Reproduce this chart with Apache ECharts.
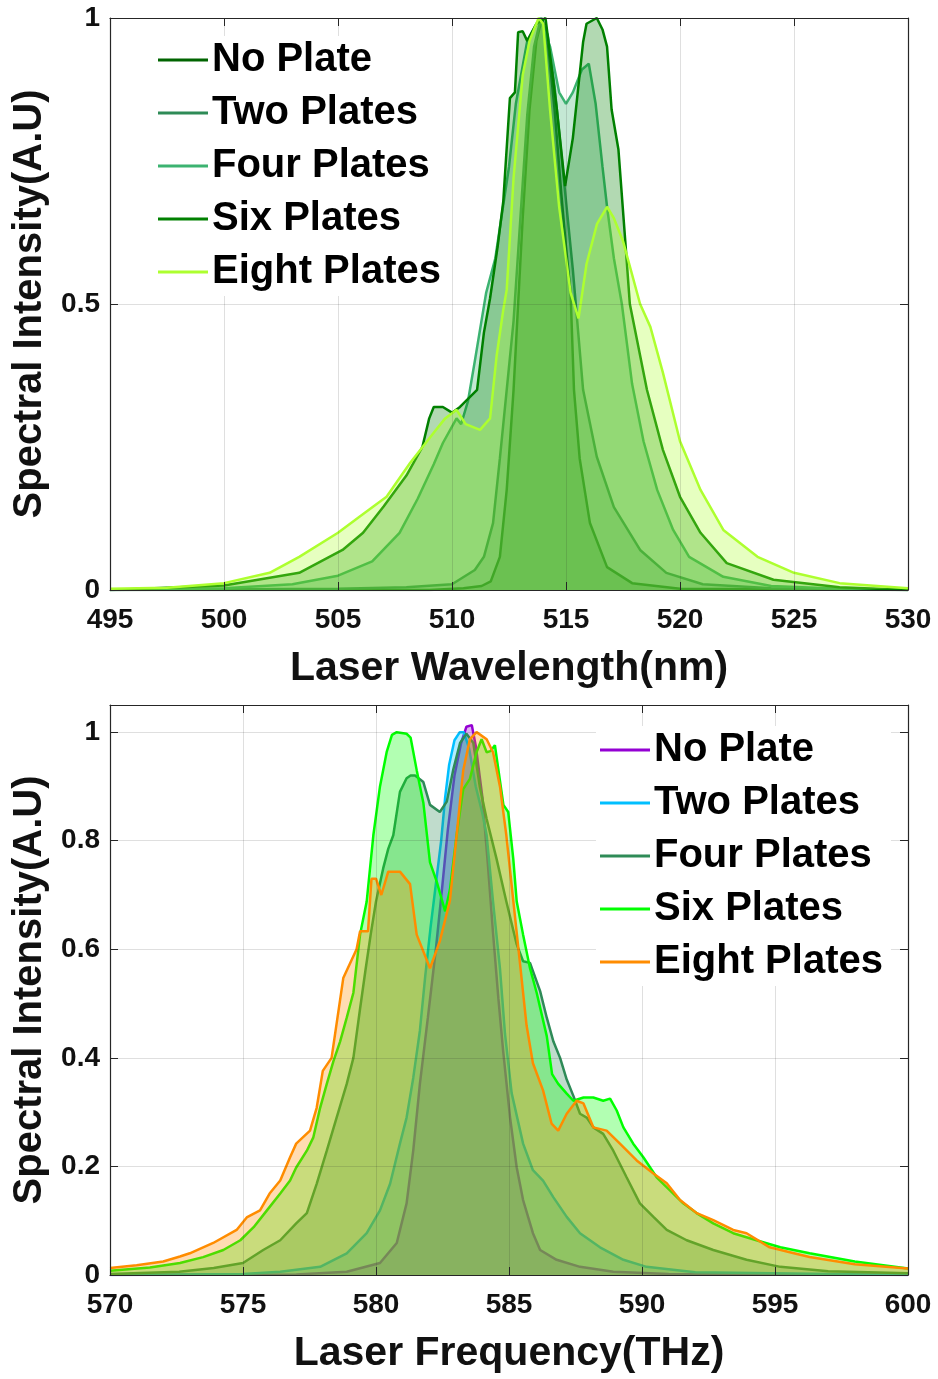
<!DOCTYPE html>
<html><head><meta charset="utf-8">
<script src="https://cdn.jsdelivr.net/npm/echarts@6/dist/echarts.min.js"></script>
<style>html,body{margin:0;padding:0;background:#fff}#c1{width:938px;height:690px}#c2{width:938px;height:689px}</style>
</head><body><div id="c1"></div><div id="c2"></div>
<script>
// ---------- Top plot: wavelength (nm) ----------
const seriesNames = ['No Plate', 'Two Plates', 'Four Plates', 'Six Plates', 'Eight Plates'];
const wlTicks = [495, 500, 505, 510, 515, 520, 525, 530];

const wlNoPlate  = [495, 509, 510.5, 511.3, 511.7, 512.1, 512.4, 512.7, 512.9, 513.1, 513.4, 513.7, 513.95, 514.2, 514.5, 514.8, 515.0, 515.2, 515.35, 515.6, 516.05, 516.8, 517.9, 520, 530];
const inNoPlate  = [0, 0, 0.003, 0.007, 0.015, 0.058, 0.175, 0.35, 0.5, 0.65, 0.84, 0.96, 1.0, 0.96, 0.84, 0.69, 0.6, 0.52, 0.35, 0.23, 0.117, 0.04, 0.012, 0.002, 0];

const wlTwo = [495, 505, 508, 510, 511, 511.4, 511.8, 512.1, 512.4, 512.7, 513.0, 513.3, 513.6, 513.9, 514.2, 514.5, 514.9, 515.3, 515.75, 516.35, 517.1, 518.25, 519.4, 521, 524, 530];
const inTwo = [0, 0.002, 0.005, 0.01, 0.035, 0.058, 0.117, 0.23, 0.35, 0.47, 0.65, 0.83, 0.95, 1.0, 0.97, 0.88, 0.72, 0.56, 0.35, 0.233, 0.145, 0.07, 0.03, 0.01, 0.003, 0];

const wlFour = [495, 500, 503, 505, 506.5, 507.7, 508.5, 509.2, 509.6, 510.2, 510.4, 510.7, 511.0, 511.5, 511.9, 512.5, 512.8, 513.3, 513.85, 514.3, 514.7, 515.0, 515.3, 515.7, 516.0, 516.3, 516.6, 516.8, 517.1, 517.45, 517.9, 518.4, 519.0, 519.7, 520.4, 521.9, 524, 527, 530];
const inFour = [0, 0.003, 0.01, 0.025, 0.05, 0.1, 0.16, 0.22, 0.257, 0.30, 0.29, 0.33, 0.40, 0.52, 0.58, 0.74, 0.85, 0.96, 1.0, 0.95, 0.87, 0.85, 0.87, 0.91, 0.92, 0.85, 0.74, 0.67, 0.58, 0.5, 0.36, 0.26, 0.175, 0.105, 0.058, 0.023, 0.007, 0.002, 0];

const wlSix = [495, 500, 503.3, 505.2, 506.1, 507.0, 508.0, 508.7, 509.0, 509.2, 509.6, 510.0, 510.35, 511.1, 511.4, 511.67, 512.0, 512.25, 512.54, 512.76, 512.9, 513.1, 513.3, 513.7, 514.1, 514.6, 514.96, 515.3, 515.75, 515.9, 516.35, 516.6, 516.8, 517.0, 517.3, 517.6, 517.8, 518.55, 519.25, 520.0, 520.9, 522.05, 524.1, 527, 530];
const inSix = [0, 0.008, 0.03, 0.07, 0.1, 0.146, 0.2, 0.25, 0.3, 0.32, 0.32, 0.31, 0.32, 0.35, 0.45, 0.51, 0.6, 0.68, 0.86, 0.87, 0.975, 0.977, 0.96, 0.99, 1.0, 0.84, 0.706, 0.79, 0.958, 0.99, 1.0, 0.98, 0.95, 0.84, 0.77, 0.61, 0.5, 0.35, 0.245, 0.163, 0.1, 0.047, 0.018, 0.005, 0];

const wlEight = [495, 497.5, 500, 502, 503.3, 505, 506, 507.13, 508.16, 509.18, 509.7, 510.2, 510.6, 511.23, 511.67, 511.96, 512.25, 512.4, 512.7, 513.1, 513.4, 513.8, 514.0, 514.3, 514.7, 515.2, 515.55, 515.9, 516.36, 516.8, 517.1, 517.5, 518.25, 518.7, 519.25, 520.0, 520.9, 521.9, 523.4, 525, 527, 530];
const inEight = [0.002, 0.004, 0.012, 0.03, 0.058, 0.1, 0.13, 0.163, 0.222, 0.274, 0.30, 0.315, 0.29, 0.28, 0.30, 0.41, 0.49, 0.525, 0.72, 0.90, 0.96, 1.0, 0.99, 0.84, 0.67, 0.52, 0.475, 0.57, 0.64, 0.67, 0.65, 0.61, 0.5, 0.46, 0.38, 0.26, 0.175, 0.105, 0.058, 0.03, 0.012, 0.003];

const topColors = ['#006400', '#2E8B57', '#3CB371', '#008000', '#ADFF2F'];

// ---------- Bottom plot: frequency (THz) ----------
const fqTicks = [570, 575, 580, 585, 590, 595, 600];

const fqNoPlate = [570, 577, 578.9, 580.15, 580.78, 581.15, 581.4, 581.65, 581.95, 582.25, 582.5, 582.7, 582.95, 583.2, 583.4, 583.6, 583.75, 584.0, 584.2, 584.4, 584.6, 584.78, 585.04, 585.29, 585.53, 585.9, 586.17, 586.79, 587.67, 588.92, 591, 600];
const fiNoPlate = [0, 0.001, 0.006, 0.022, 0.059, 0.132, 0.229, 0.352, 0.474, 0.6, 0.72, 0.82, 0.92, 0.98, 1.01, 1.013, 0.975, 0.88, 0.76, 0.63, 0.51, 0.413, 0.29, 0.198, 0.138, 0.077, 0.046, 0.028, 0.015, 0.006, 0.002, 0];

const fqTwo = [570, 575, 576.4, 577.9, 578.9, 579.65, 580.15, 580.53, 580.9, 581.15, 581.4, 581.65, 581.85, 582.05, 582.25, 582.45, 582.6, 582.75, 582.95, 583.15, 583.3, 583.5, 583.75, 584.0, 584.16, 584.4, 584.66, 584.85, 585.1, 585.53, 585.9, 586.28, 586.67, 587.17, 587.67, 588.42, 589.3, 590.17, 592, 600];
const fiTwo = [0, 0.002, 0.006, 0.015, 0.04, 0.077, 0.119, 0.168, 0.242, 0.29, 0.363, 0.45, 0.55, 0.64, 0.72, 0.8, 0.88, 0.94, 0.985, 1.0, 1.0, 0.97, 0.9, 0.85, 0.81, 0.688, 0.565, 0.444, 0.335, 0.242, 0.193, 0.174, 0.143, 0.107, 0.077, 0.051, 0.028, 0.015, 0.005, 0];

const fqFour = [570, 572.6, 573.9, 575.0, 575.76, 576.4, 577.0, 577.4, 577.77, 578.15, 578.52, 578.9, 579.15, 579.4, 579.6, 579.8, 580.0, 580.27, 580.46, 580.65, 580.9, 581.15, 581.3, 581.47, 581.78, 582.03, 582.4, 582.66, 582.9, 583.16, 583.4, 583.66, 583.9, 584.16, 584.53, 584.9, 585.29, 585.53, 585.79, 586.17, 586.42, 586.67, 586.92, 587.17, 587.42, 587.67, 587.92, 588.17, 588.54, 588.92, 589.42, 589.92, 590.43, 590.93, 591.68, 592.68, 593.93, 595.2, 597, 600];
const fiFour = [0.002, 0.006, 0.013, 0.022, 0.046, 0.064, 0.095, 0.114, 0.168, 0.229, 0.29, 0.352, 0.40, 0.49, 0.56, 0.627, 0.688, 0.749, 0.785, 0.81, 0.89, 0.915, 0.92, 0.92, 0.908, 0.866, 0.853, 0.872, 0.93, 0.98, 0.997, 0.98, 0.90, 0.84, 0.767, 0.688, 0.609, 0.578, 0.575, 0.523, 0.474, 0.43, 0.40, 0.36, 0.33, 0.297, 0.29, 0.272, 0.26, 0.229, 0.18, 0.132, 0.107, 0.083, 0.064, 0.046, 0.028, 0.015, 0.007, 0.003];

const fqSix = [570, 571.5, 572.63, 573.5, 574.26, 574.9, 575.4, 575.9, 576.4, 576.77, 577.0, 577.4, 577.64, 577.9, 578.15, 578.4, 578.65, 578.9, 579.15, 579.4, 579.65, 579.9, 580.15, 580.4, 580.6, 580.78, 581.15, 581.3, 581.53, 581.78, 582.03, 582.28, 582.6, 582.78, 583.03, 583.28, 583.53, 583.78, 583.97, 584.16, 584.3, 584.47, 584.79, 584.97, 585.16, 585.29, 585.53, 585.79, 586.04, 586.42, 586.62, 586.85, 587.17, 587.42, 587.8, 588.17, 588.54, 588.8, 589.05, 589.3, 589.67, 590.05, 590.55, 591.05, 591.55, 592.05, 592.68, 593.43, 594.3, 595.2, 596.3, 598, 600];
const fiSix = [0.008, 0.014, 0.022, 0.033, 0.046, 0.064, 0.088, 0.119, 0.15, 0.174, 0.198, 0.229, 0.253, 0.308, 0.352, 0.394, 0.43, 0.474, 0.52, 0.627, 0.688, 0.81, 0.90, 0.963, 0.995, 1.0, 0.997, 0.99, 0.93, 0.87, 0.76, 0.725, 0.67, 0.71, 0.81, 0.895, 0.914, 0.963, 0.987, 0.963, 0.965, 0.976, 0.866, 0.853, 0.767, 0.688, 0.627, 0.565, 0.52, 0.44, 0.37, 0.352, 0.334, 0.321, 0.327, 0.327, 0.321, 0.325, 0.303, 0.272, 0.242, 0.217, 0.18, 0.156, 0.132, 0.114, 0.095, 0.077, 0.064, 0.051, 0.04, 0.025, 0.012];

const fqEight = [570, 571, 572, 572.63, 573.0, 573.88, 574.76, 575.14, 575.64, 576.0, 576.4, 576.77, 577.0, 577.52, 577.77, 578.0, 578.33, 578.77, 579.27, 579.4, 579.7, 579.83, 580.0, 580.2, 580.46, 580.9, 581.28, 581.53, 582.03, 582.4, 582.78, 583.03, 583.28, 583.53, 583.78, 584.16, 584.4, 584.66, 584.9, 585.16, 585.4, 585.66, 585.9, 586.28, 586.6, 586.85, 587.17, 587.54, 587.8, 588.17, 588.67, 589.17, 589.8, 590.43, 590.93, 591.43, 592.06, 592.68, 593.43, 593.93, 594.8, 595.56, 596.3, 598, 600];
const fiEight = [0.013, 0.018, 0.025, 0.034, 0.04, 0.059, 0.083, 0.106, 0.119, 0.15, 0.174, 0.217, 0.242, 0.266, 0.308, 0.376, 0.40, 0.547, 0.60, 0.633, 0.633, 0.73, 0.73, 0.70, 0.743, 0.743, 0.72, 0.627, 0.565, 0.615, 0.69, 0.81, 0.93, 0.987, 1.0, 0.987, 0.963, 0.90, 0.81, 0.69, 0.58, 0.46, 0.39, 0.34, 0.279, 0.266, 0.297, 0.321, 0.316, 0.272, 0.266, 0.242, 0.211, 0.187, 0.169, 0.138, 0.114, 0.101, 0.083, 0.077, 0.051, 0.042, 0.033, 0.02, 0.012];

const botColors = ['#9400D3', '#00BFFF', '#2E8B57', '#00FF00', '#FF8C00'];

// ---------- Rendering ----------
const FONT = '"Liberation Sans", Arial, sans-serif';
const INK = '#111';

function zip(xs, ys) { return xs.map((x, i) => [x, ys[i]]); }

function mkSeries(name, xs, ys, color, idx) {
  return {
    name: name, type: 'line', data: zip(xs, ys), z: 2 + idx,
    symbol: 'none', showSymbol: false, smooth: false,
    lineStyle: { color: color, width: 2.5 },
    itemStyle: { color: color },
    areaStyle: { color: color, opacity: 0.3 },
    emphasis: { disabled: true }, silent: true
  };
}

function mkOption(cfg) {
  const tickStyle = { show: true, inside: true, length: 8, lineStyle: { color: '#262626', width: 1 } };
  const lineStyle = { show: true, onZero: false, lineStyle: { color: '#262626', width: 1.2 } };
  const split = { show: true, lineStyle: { color: 'rgba(38,38,38,0.15)', width: 1 } };
  const lab = { fontSize: 28, fontWeight: 'bold', color: INK, fontFamily: FONT };
  return {
    animation: false,
    backgroundColor: '#fff',
    grid: { left: 110, top: cfg.top, width: 798, height: cfg.height, show: false, containLabel: false, outerBoundsMode: 'none' },
    legend: {
      orient: 'vertical', left: cfg.legLeft, top: cfg.legTop, z: 30,
      data: seriesNames.map(n => ({ name: n, icon: 'rect' })),
      itemWidth: 50, itemHeight: 3, itemGap: 13,
      backgroundColor: '#fff', padding: [4, 8, 4, 4],
      selectedMode: false,
      textStyle: { fontSize: 40, fontWeight: 'bold', color: '#000', fontFamily: FONT, lineHeight: 40, padding: [0, 0, 0, -1] }
    },
    xAxis: [
      { type: 'value', position: 'bottom', min: cfg.xmin, max: cfg.xmax, interval: 5,
        axisLine: lineStyle, axisTick: tickStyle, splitLine: split,
        axisLabel: Object.assign({ margin: 16 }, lab),
        name: cfg.xname, nameLocation: 'middle', nameGap: cfg.xNameGap,
        nameTextStyle: { fontSize: 41, fontWeight: 'bold', color: INK, fontFamily: FONT }, z: 10 },
      { type: 'value', position: 'top', min: cfg.xmin, max: cfg.xmax, interval: 5,
        axisLine: lineStyle, axisTick: tickStyle, splitLine: { show: false }, axisLabel: { show: false }, z: 10 }
    ],
    yAxis: [
      { type: 'value', position: 'left', min: 0, max: cfg.ymax, interval: cfg.yint,
        axisLine: lineStyle, axisTick: tickStyle, splitLine: split,
        axisLabel: Object.assign({ margin: 10, formatter: cfg.yfmt }, lab),
        name: 'Spectral Intensity(A.U)', nameLocation: 'middle', nameGap: cfg.yNameGap, nameRotate: 90,
        nameTextStyle: { fontSize: 40, fontWeight: 'bold', color: INK, fontFamily: FONT }, z: 10 },
      { type: 'value', position: 'right', min: 0, max: cfg.ymax, interval: cfg.yint,
        axisLine: lineStyle, axisTick: tickStyle, splitLine: { show: false }, axisLabel: { show: false }, z: 10 }
    ],
    series: cfg.series
  };
}

const topSeries = [
  mkSeries(seriesNames[0], wlNoPlate, inNoPlate, topColors[0], 0),
  mkSeries(seriesNames[1], wlTwo, inTwo, topColors[1], 1),
  mkSeries(seriesNames[2], wlFour, inFour, topColors[2], 2),
  mkSeries(seriesNames[3], wlSix, inSix, topColors[3], 3),
  mkSeries(seriesNames[4], wlEight, inEight, topColors[4], 4)
];
const botSeries = [
  mkSeries(seriesNames[0], fqNoPlate, fiNoPlate, botColors[0], 0),
  mkSeries(seriesNames[1], fqTwo, fiTwo, botColors[1], 1),
  mkSeries(seriesNames[2], fqFour, fiFour, botColors[2], 2),
  mkSeries(seriesNames[3], fqSix, fiSix, botColors[3], 3),
  mkSeries(seriesNames[4], fqEight, fiEight, botColors[4], 4)
];

const c1 = echarts.init(document.getElementById('c1'), null, { renderer: 'canvas' });
c1.setOption(mkOption({
  top: 18, height: 572, xmin: wlTicks[0], xmax: wlTicks[wlTicks.length - 1], ymax: 1, yint: 0.5,
  yfmt: v => String(v), xname: 'Laser Wavelength(nm)', xNameGap: 58, yNameGap: 60,
  legLeft: 154, legTop: 36, series: topSeries
}));

const c2 = echarts.init(document.getElementById('c2'), null, { renderer: 'canvas' });
c2.setOption(mkOption({
  top: 15, height: 570, xmin: fqTicks[0], xmax: fqTicks[fqTicks.length - 1], ymax: 1.05, yint: 0.2,
  yfmt: v => (Math.abs(v * 5 - Math.round(v * 5)) < 1e-6 ? String(Math.round(v * 10) / 10) : ''),
  xname: 'Laser Frequency(THz)', xNameGap: 58, yNameGap: 60,
  legLeft: 596, legTop: 36, series: botSeries
}));
</script></body></html>
